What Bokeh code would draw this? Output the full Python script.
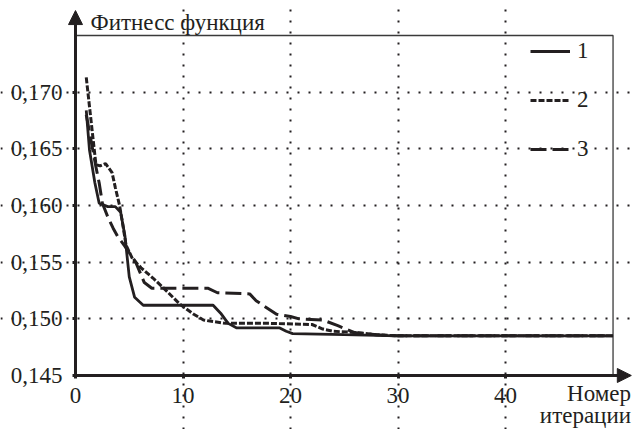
from bokeh.plotting import figure
from bokeh.models import (Range1d, FixedTicker, Legend, LegendItem, Arrow, NormalHead, Label)
from bokeh.embed import file_html
from bokeh.resources import INLINE

# ---- data ----
x1 = [1, 1.3, 1.8, 2.2, 3.0, 3.7, 4.2, 4.6, 5.0, 5.5, 6.3, 8, 10, 12.8, 13.5, 14.2, 15, 17, 19, 19.6, 20.2, 25, 30, 40, 50]
y1 = [0.1684, 0.1649, 0.1620, 0.1602, 0.1599, 0.1599, 0.1594, 0.1573, 0.1537, 0.1519, 0.1512, 0.1512, 0.1512, 0.1512,
      0.1505, 0.1496, 0.1492, 0.1492, 0.1492, 0.1489, 0.1487, 0.1486, 0.1485, 0.1485, 0.1485]

x2 = [1, 1.9, 2.3, 2.8, 3.4, 3.7, 4.1, 4.4, 4.7, 5.3, 6.1, 7.2, 8.1, 9.7, 11.0, 11.9, 12.5, 14, 18, 22, 23, 24, 26, 28, 30, 40, 50]
y2 = [0.1713, 0.1636, 0.1635, 0.1637, 0.1629, 0.1616, 0.1600, 0.1583, 0.1565, 0.1553, 0.1545, 0.1536, 0.1528, 0.1513,
      0.1504, 0.1499, 0.1498, 0.1496, 0.1496, 0.1495, 0.1491, 0.1489, 0.1488, 0.1486, 0.1485, 0.1485, 0.1485]

x3 = [1, 1.9, 2.2, 2.5, 3.0, 3.5, 3.9, 4.6, 5.6, 6.4, 7.1, 12.3, 13.2, 16.2, 16.8, 18.7, 20, 20.8, 23, 24.4, 25.9, 28, 30, 40, 50]
y3 = [0.1680, 0.1634, 0.1620, 0.1602, 0.1590, 0.1580, 0.1573, 0.1564, 0.1550, 0.1532, 0.1527, 0.1527, 0.1523, 0.1522,
      0.1516, 0.1504, 0.1502, 0.1500, 0.1499, 0.1494, 0.1488, 0.1486, 0.1485, 0.1485, 0.1485]

series_names = ["1", "2", "3"]
x_ticks = [0, 10, 20, 30, 40]
x_tick_labels = ["0", "10", "20", "30", "40"]
y_ticks = [0.145, 0.150, 0.155, 0.160, 0.165, 0.170]
y_tick_labels = ["0,145", "0,150", "0,155", "0,160", "0,165", "0,170"]
x_grid = [10, 20, 30, 40]
y_grid = [0.150, 0.155, 0.160, 0.165, 0.170]
y_axis_title = "Фитнесс функция"
x_axis_title = ["Номер", "итерации"]

# axis extents (data units)
X_MIN, X_MAX = 0, 50
Y_MIN, Y_MAX = 0.145, 0.175
X_ARROW_TIP = 51.7
Y_ARROW_TIP = 0.1772

FONT = "Liberation Serif"
FS = "23px"
INK = "#231f20"

# whole canvas is the frame; axes are pinned at x=0 / y=0.145
p = figure(width=632, height=429, output_backend="svg", toolbar_location=None,
           x_range=Range1d(-6.977, 51.81), y_range=Range1d(0.140235, 0.178088),
           min_border=0, min_border_left=0, min_border_right=0, min_border_top=0, min_border_bottom=0)
p.background_fill_color = "white"
p.border_fill_color = "white"
p.outline_line_color = None

p.xaxis.fixed_location = Y_MIN
p.yaxis.fixed_location = X_MIN
p.xaxis.bounds = (X_MIN, X_ARROW_TIP - 1.0)
p.yaxis.bounds = (Y_MIN, Y_ARROW_TIP - 0.0012)

for ax in (p.xaxis[0], p.yaxis[0]):
    ax.axis_line_width = 3
    ax.axis_line_color = INK
    ax.major_tick_line_color = INK
    ax.major_tick_line_width = 3
    ax.major_tick_out = 3
    ax.major_tick_in = 1
    ax.minor_tick_line_color = None
    ax.major_label_text_font = FONT
    ax.major_label_text_font_size = FS
    ax.major_label_text_color = INK

p.xaxis.ticker = FixedTicker(ticks=x_ticks)
p.xaxis.major_label_overrides = {t: l for t, l in zip(x_ticks, x_tick_labels)}
p.xaxis.major_label_standoff = 10
p.yaxis.ticker = FixedTicker(ticks=y_ticks)
p.yaxis.major_label_overrides = {t: l for t, l in zip(y_ticks, y_tick_labels)}
p.yaxis.major_label_standoff = 10

# grid (dotted), limited to the box
p.xgrid.ticker = FixedTicker(ticks=x_grid)
p.ygrid.ticker = FixedTicker(ticks=y_grid)
p.xgrid.bounds = (Y_MIN, Y_MAX)
p.ygrid.bounds = (X_MIN, X_MAX)
for g in (p.xgrid[0], p.ygrid[0]):
    g.grid_line_color = INK
    g.grid_line_width = 2
    g.grid_line_dash = "2 9"

# thin top / right border of the box
p.line([X_MIN, X_MAX, X_MAX], [Y_MAX, Y_MAX, Y_MIN], line_color="#3a3a3a", line_width=1.3)

# curves
r1 = p.line(x1, y1, line_color=INK, line_width=2.8)
r2 = p.line(x2, y2, line_color=INK, line_width=3, line_dash="6 2")
r3 = p.line(x3, y3, line_color=INK, line_width=3, line_dash="16 6")

legend = Legend(items=[LegendItem(label=series_names[0], renderers=[r1]),
                       LegendItem(label=series_names[1], renderers=[r2]),
                       LegendItem(label=series_names[2], renderers=[r3])],
                location=(530, 267), padding=0, margin=0, spacing=23,
                glyph_width=40, glyph_height=24, label_height=24, label_standoff=7,
                label_text_font=FONT, label_text_font_size=FS, label_text_color=INK,
                background_fill_alpha=0, border_line_alpha=0)
p.add_layout(legend, "center")

# axis arrows
p.add_layout(Arrow(end=NormalHead(size=14, fill_color=INK, line_color=INK),
                   x_start=X_MIN, y_start=Y_ARROW_TIP - 0.0012, x_end=X_MIN, y_end=Y_ARROW_TIP,
                   line_width=3, line_color=INK))
p.add_layout(Arrow(end=NormalHead(size=14, fill_color=INK, line_color=INK),
                   x_start=X_ARROW_TIP - 1.0, y_start=Y_MIN, x_end=X_ARROW_TIP, y_end=Y_MIN,
                   line_width=3, line_color=INK))

# axis titles
p.add_layout(Label(x=X_MIN, y=Y_MAX, x_offset=15, y_offset=13, text=y_axis_title,
                   text_font=FONT, text_font_size=FS, text_color=INK,
                   text_baseline="alphabetic", text_align="left"))
p.add_layout(Label(x=X_MAX, y=Y_MIN, x_offset=18, y_offset=-18, text=x_axis_title[0],
                   text_font=FONT, text_font_size=FS, text_color=INK,
                   text_baseline="alphabetic", text_align="right"))
p.add_layout(Label(x=X_MAX, y=Y_MIN, x_offset=18, y_offset=-40, text=x_axis_title[1],
                   text_font=FONT, text_font_size=FS, text_color=INK,
                   text_baseline="alphabetic", text_align="right"))

open("out.html", "w").write(file_html(p, INLINE))
